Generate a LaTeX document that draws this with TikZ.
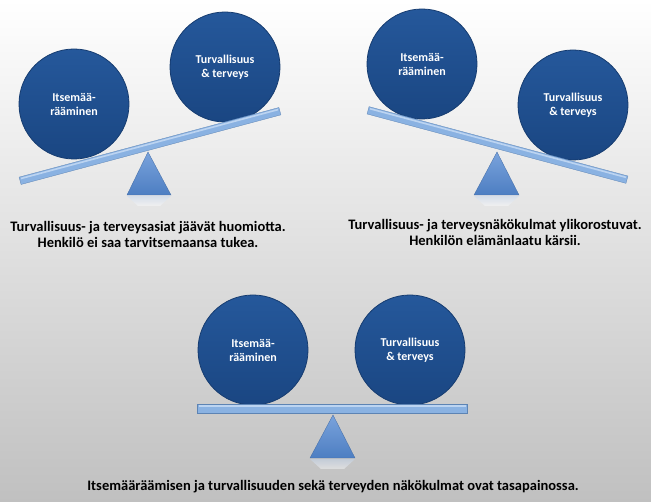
\documentclass[tikz,border=0pt]{standalone}
\usepackage{fontspec}
\setmainfont{Carlito}
\definecolor{bgbot}{HTML}{C0C0C0}
\definecolor{balltop}{HTML}{25589B}
\definecolor{ballbot}{HTML}{1A4682}
\definecolor{ballrim}{HTML}{163C70}
\definecolor{beamtop}{HTML}{BCD4F1}
\definecolor{beammid}{HTML}{8AB2E2}
\definecolor{beambot}{HTML}{6E9BD4}
\definecolor{tritop}{HTML}{7AA3DC}
\definecolor{tribot}{HTML}{4D7EC2}
\tikzset{
  ball/.style={circle, minimum size=110pt, inner sep=0pt, top color=balltop, bottom color=ballbot,
    draw=ballrim, line width=0.8pt, text=white, align=center,
    font=\bfseries\fontsize{12}{14}\selectfont},
  caption/.style={align=center, text=black, font=\bfseries\fontsize{14.5}{16}\selectfont},
  beambar/.style={fill=beammid, draw=beambot!85!black, line width=0.3pt},
  beamshine/.style={fill=beamtop},
  fulcrum/.style={top color=tritop, bottom color=tribot, draw=tribot!85!black, line width=0.3pt},
  refl/.style={top color=tritop!45!white, bottom color=white, opacity=0.45}
}
\begin{document}
\begin{tikzpicture}[x=1pt,y=-1pt]
\shade[top color=white, bottom color=bgbot] (0,0) rectangle (651,502);
\useasboundingbox (0,0) rectangle (651,502);

% ---------- Panel 1 ----------
\node[ball] (p1l) at (74,104) {Itsemää-\\rääminen};
\node[ball] (p1r) at (225,67) {Turvallisuus\\\& terveys};
\shade[refl] (127,196) -- (171,196) -- (160,206) -- (138,206) -- cycle;
\path[fulcrum] (148,152) -- (171,195) -- (127,195) -- cycle;
\begin{scope}[shift={(150,146)}, rotate=15]
  \path[beambar] (-134.5,-3.8) rectangle (134.5,3.8);
  \path[beamshine] (-133,-2.8) rectangle (133,-1.2);
\end{scope}
\node[caption] (t1) at (148,234) {Turvallisuus- ja terveysasiat jäävät huomiotta.\\Henkilö ei saa tarvitsemaansa tukea.};

% ---------- Panel 2 ----------
\node[ball] (p2l) at (422,64) {Itsemää-\\rääminen};
\node[ball] (p2r) at (573,105) {Turvallisuus\\\& terveys};
\shade[refl] (474,196) -- (519,196) -- (508,206) -- (485,206) -- cycle;
\path[fulcrum] (497,152) -- (519,195) -- (474,195) -- cycle;
\begin{scope}[shift={(497.5,145)}, rotate=-15]
  \path[beambar] (-134,-3.8) rectangle (134,3.8);
  \path[beamshine] (-132.5,-2.8) rectangle (132.5,-1.2);
\end{scope}
\node[caption] (t2) at (495,232) {Turvallisuus- ja terveysnäkökulmat ylikorostuvat.\\Henkilön elämänlaatu kärsii.};

% ---------- Panel 3 ----------
\node[ball] (p3l) at (253,350) {Itsemää-\\rääminen};
\node[ball] (p3r) at (410,350) {Turvallisuus\\\& terveys};
\shade[refl] (310,459) -- (355,459) -- (344,469) -- (321,469) -- cycle;
\path[fulcrum] (333,415) -- (355,458) -- (310,458) -- cycle;
\path[beambar] (197,404) rectangle (467,413);
\path[beamshine] (198.5,405.2) rectangle (465.5,406.8);
\node[caption] (t3) at (333,487) {Itsemääräämisen ja turvallisuuden sekä terveyden näkökulmat ovat tasapainossa.};
\end{tikzpicture}
\end{document}
